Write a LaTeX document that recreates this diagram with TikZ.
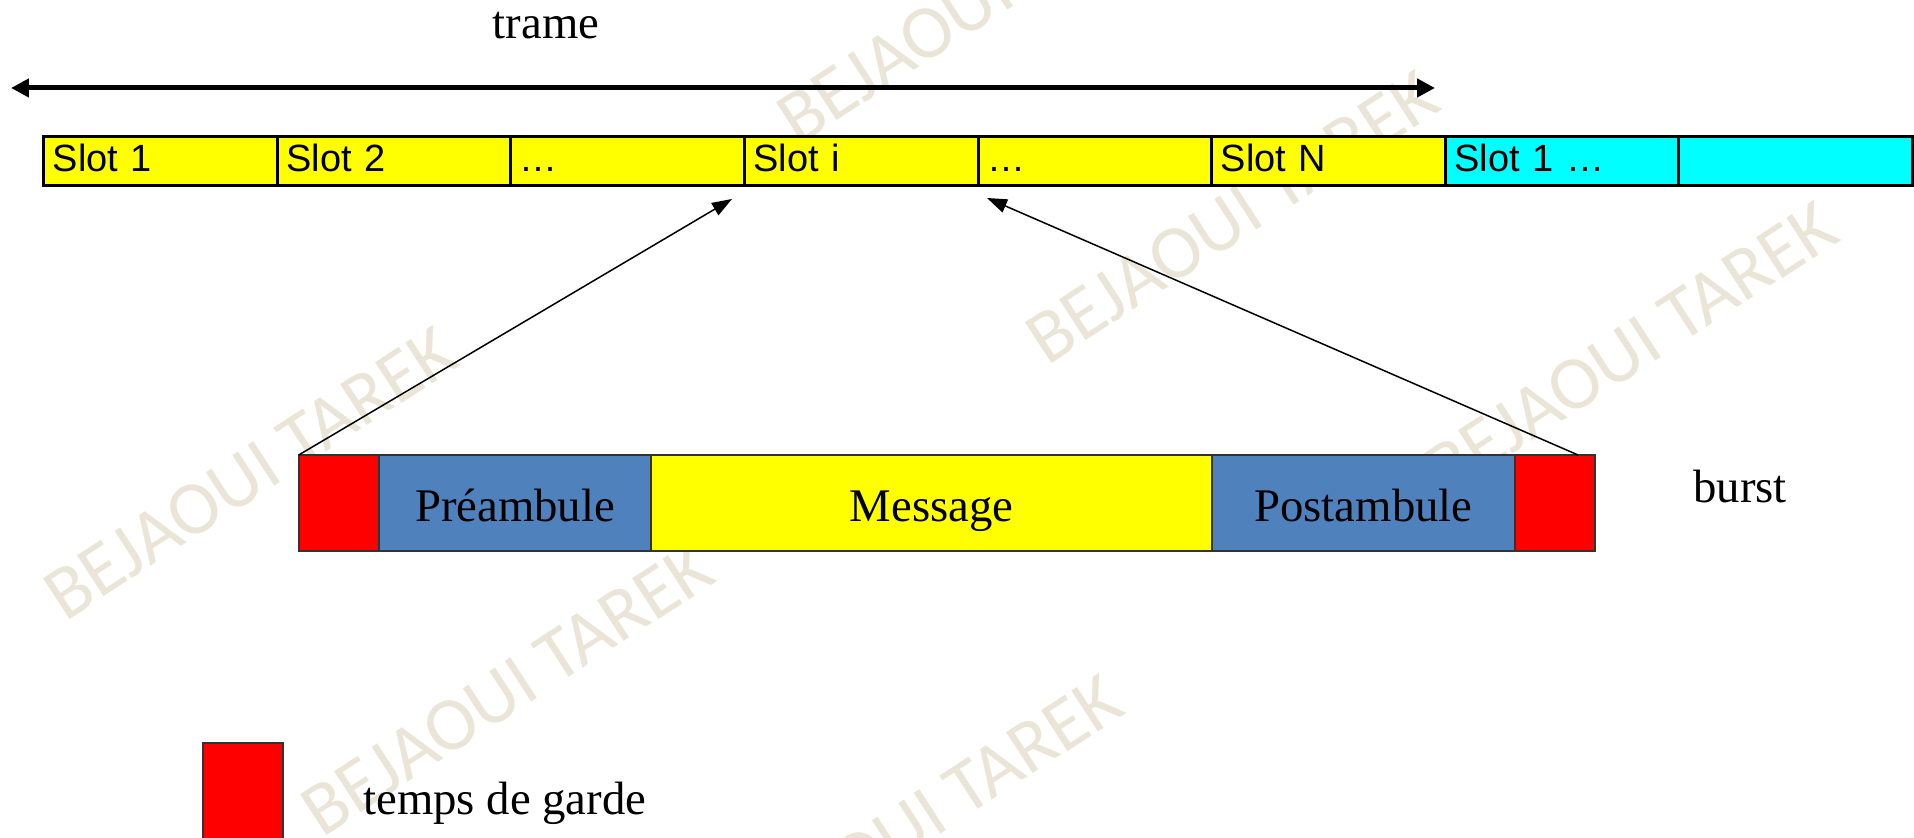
\documentclass[tikz,border=0pt]{standalone}
\usepackage{fontspec}
\setmainfont{Liberation Serif}
\newfontfamily\slotfont{Liberation Sans}
\newfontfamily\markfont{Carlito}
\usetikzlibrary{arrows.meta,calc}

\definecolor{slotyellow}{RGB}{255,255,0}
\definecolor{slotcyan}{RGB}{0,255,255}
\definecolor{gardered}{RGB}{255,0,0}
\definecolor{ambblue}{RGB}{79,129,189}
\definecolor{markbeige}{RGB}{234,229,214}

\tikzset{
	slotcell/.style={draw=black,line width=0.03cm,minimum width=2.336cm,minimum height=0.495cm,
		text width=2.156cm,inner xsep=0.09cm,inner ysep=0pt,outer sep=0pt,align=left,
		text height=0.28cm,text depth=0.06cm,anchor=west,font=\slotfont\fontsize{10.8}{12}\selectfont},
	burstpart/.style={draw=black!80,line width=0.02cm,minimum height=0.96cm,inner sep=0pt,outer sep=0pt,
		text height=0.45cm,text depth=0.08cm,anchor=west,font=\fontsize{13.3}{16}\selectfont},
	label/.style={font=\fontsize{13.3}{16}\selectfont},
	wmark/.style={text=markbeige,rotate=33,font=\markfont\fontsize{21.6}{24}\selectfont},
	link/.style={line width=0.015cm,-{Triangle[length=0.2cm,width=0.14cm]}}
}

\begin{document}
\begin{tikzpicture}
	\useasboundingbox (0,0) rectangle (19.14,8.38);
	\clip (0,0) rectangle (19.14,8.38);
	% watermark in the background
	\foreach \x/\y [count=\k] in {9.83/8.41,12.32/6.21,16.31/4.90,2.50/3.65,5.07/1.49,9.16/0.17}
		\node[wmark] (wm\k) at (\x,\y) {BEJAOUI TAREK};
	% frame arrow
	\node[label,anchor=base] (trame) at (5.46,7.99) {trame};
	\coordinate (t0) at (0.11,7.50);
	\coordinate (t1) at (14.35,7.50);
	\draw[line width=0.05cm,{Triangle[length=0.18cm,width=0.18cm]}-{Triangle[length=0.18cm,width=0.18cm]}] (t0) -- (t1);
	% slots of the frame
	\foreach \lbl/\col [count=\i] in {Slot 1/slotyellow,Slot 2/slotyellow,…/slotyellow,Slot i/slotyellow,…/slotyellow,Slot N/slotyellow,Slot 1 …/slotcyan,/slotcyan}
		\node[slotcell,fill=\col] (s\i) at ({0.4375+2.336*(\i-1)},6.77) {\lbl};
	% burst
	\node[burstpart,fill=gardered,minimum width=0.8025cm] (g1) at (2.9875,3.35) {};
	\node[burstpart,fill=ambblue,minimum width=2.72cm] (pre) at (g1.east) {Préambule};
	\node[burstpart,fill=slotyellow,minimum width=5.61cm] (msg) at (pre.east) {Message};
	\node[burstpart,fill=ambblue,minimum width=3.03cm] (post) at (msg.east) {Postambule};
	\node[burstpart,fill=gardered,minimum width=0.80cm] (g2) at (post.east) {};
	\node[label,anchor=base] (burst) at (17.40,3.35) {burst};
	% zoom lines
	\coordinate (tipi) at (7.32,6.39);
	\coordinate (tipn) at (9.87,6.40);
	\coordinate (gend) at ($(g2.north east)+(-0.17,0)$);
	\draw[link] (g1.north west) -- (tipi);
	\draw[link] (gend) -- (tipn);
	% legend
	\node[draw=black!80,line width=0.02cm,fill=gardered,minimum width=0.80cm,minimum height=1.2cm,
		inner sep=0pt,outer sep=0pt,anchor=north west] (leg) at (2.03,0.953) {};
	\node[label,anchor=base west] (legtxt) at (3.51,0.23) {temps de garde};
\end{tikzpicture}
\end{document}
